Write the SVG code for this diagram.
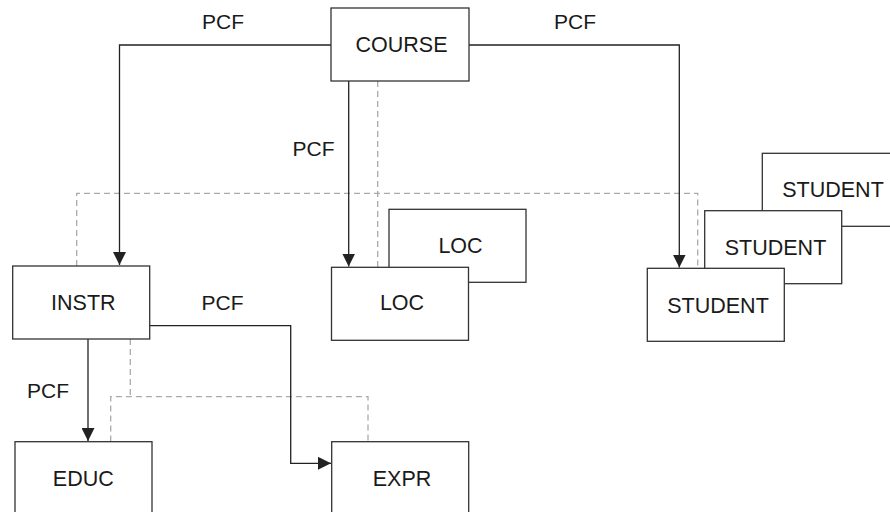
<svg xmlns="http://www.w3.org/2000/svg" width="890" height="512" viewBox="0 0 890 512">
<defs>
<style>
.box{fill:#fff;stroke:#333;stroke-width:1.3}
.lbl{font-family:"Liberation Sans",Arial,sans-serif;font-size:21.5px;fill:#1a1a1a;text-anchor:middle}
.pcf{font-family:"Liberation Sans",Arial,sans-serif;font-size:21px;fill:#1a1a1a}
.solid{fill:none;stroke:#222;stroke-width:1.3}
.dash{fill:none;stroke:#aaa;stroke-width:1.3;stroke-dasharray:6,4}
</style>
<marker id="arr" viewBox="0 0 13 13" refX="13" refY="6.5" markerWidth="13" markerHeight="13" markerUnits="userSpaceOnUse" orient="auto">
<path d="M0,0 L13,6.5 L0,13 Z" fill="#222"/>
</marker>
</defs>
<rect width="890" height="512" fill="#fff"/>
<g id="connectors">
<path class="dash" d="M377.7,81 V267"/>
<path class="dash" d="M76.7,266 V193.3 H697.7 V268"/>
<path class="dash" d="M130.3,339 V396.7"/>
<path class="dash" d="M110.7,441.5 V396.7 H368 V441.5"/>
<path class="solid" d="M331,45 H119.5 V265" marker-end="url(#arr)"/>
<path class="solid" d="M348.7,81 V266.5" marker-end="url(#arr)"/>
<path class="solid" d="M469,45 H679.3 V267.5" marker-end="url(#arr)"/>
<path class="solid" d="M88,339 V441" marker-end="url(#arr)"/>
<path class="solid" d="M149.5,325.7 H290.7 V463.3 H331" marker-end="url(#arr)"/>
<text class="pcf" x="202" y="29">PCF</text>
<text class="pcf" x="554" y="29">PCF</text>
<text class="pcf" x="292.5" y="156">PCF</text>
<text class="pcf" x="201.5" y="310">PCF</text>
<text class="pcf" x="27" y="397.5">PCF</text>
</g>
<g id="course"><rect class="box" x="331" y="8" width="138" height="73"/><text class="lbl" x="401.5" y="52.3">COURSE</text></g>
<g id="loc-back"><rect class="box" x="389" y="209.3" width="137" height="73"/><text class="lbl" x="460.5" y="253">LOC</text></g>
<g id="loc"><rect class="box" x="331.5" y="267.3" width="137" height="73"/><text class="lbl" x="402" y="310">LOC</text></g>
<g id="student-back"><rect class="box" x="762.3" y="153.3" width="137" height="73"/><text class="lbl" x="833" y="197.3">STUDENT</text></g>
<g id="student-mid"><rect class="box" x="704.7" y="210.7" width="137" height="73"/><text class="lbl" x="775.5" y="255">STUDENT</text></g>
<g id="student"><rect class="box" x="647.3" y="268.3" width="137" height="73"/><text class="lbl" x="718" y="312.7">STUDENT</text></g>
<g id="instr"><rect class="box" x="12.7" y="266" width="137" height="73"/><text class="lbl" x="83.3" y="310">INSTR</text></g>
<g id="educ"><rect class="box" x="15" y="441.7" width="137" height="73"/><text class="lbl" x="83.3" y="486">EDUC</text></g>
<g id="expr"><rect class="box" x="331.7" y="441.7" width="137" height="73"/><text class="lbl" x="402" y="486">EXPR</text></g>
</svg>
